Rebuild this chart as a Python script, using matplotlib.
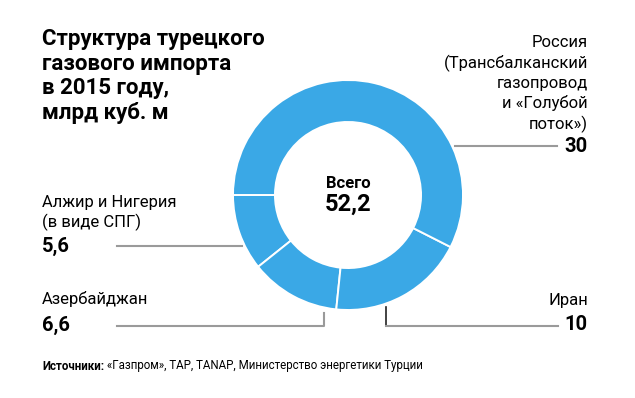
import matplotlib.pyplot as plt

# data
sources = ["Алжир и Нигерия\n(в виде СПГ)", "Азербайджан", "Иран",
           "Россия\n(Трансбалканский\nгазопровод\nи «Голубой\nпоток»)"]
values = [5.6, 6.6, 10, 30]
value_labels = ["5,6", "6,6", "10", "30"]
total_label = "52,2"

title = "Структура турецкого\nгазового импорта\nв 2015 году,\nмлрд куб. м"
note_bold = "Источники:"
note = " «Газпром», TAP, TANAP, Министерство энергетики Турции"

blue = "#3aa8e6"
grey = "#9a9a9a"

plt.rcParams["font.family"] = ["Liberation Sans Narrow", "Roboto", "DejaVu Sans"]

W, H = 635, 398
fig = plt.figure(figsize=(W / 100, H / 100), dpi=100)

# donut: centre (348, 195) px, outer radius 115 px
cx, cy, r = 348, 195, 115
ax = fig.add_axes([(cx - r) / W, (H - cy - r) / H, 2 * r / W, 2 * r / H])
ax.pie(values, startangle=180, counterclock=True, colors=[blue] * 4,
       radius=1, wedgeprops=dict(width=0.365, edgecolor="white", linewidth=1.4))
ax.set_xlim(-1, 1)
ax.set_ylim(-1, 1)
ax.set_aspect("equal")
ax.axis("off")

# overlay in pixel coordinates (top-left origin)
ov = fig.add_axes([0, 0, 1, 1], zorder=-1)
ov.set_xlim(0, W)
ov.set_ylim(H, 0)
ov.axis("off")

ov.text(42, 28, title, fontsize=16, fontweight="bold", va="top", ha="left",
        linespacing=1.16)

ov.text(348, 184, "Всего", fontsize=12, fontweight="bold", ha="center", va="center")
ov.text(348, 204, total_label, fontsize=17, fontweight="bold", ha="center", va="center")

lab_fs = 12
val_fs = 14.5

# Algeria / Nigeria
ov.text(42, 227, sources[0], fontsize=lab_fs, ha="left", va="baseline", linespacing=1.25)
ov.text(42, 246, value_labels[0], fontsize=val_fs, fontweight="bold", ha="left", va="center")
ov.plot([117, 242], [246, 246], color=grey, lw=1.5)

# Azerbaijan
ov.text(42, 299, sources[1], fontsize=lab_fs, ha="left", va="center")
ov.text(42, 325, value_labels[1], fontsize=val_fs, fontweight="bold", ha="left", va="center")
ov.plot([117, 324, 324], [326, 326, 313], color=grey, lw=1.5)

# Iran
ov.text(588, 300, sources[2], fontsize=lab_fs, ha="right", va="center")
ov.text(588, 325, value_labels[2], fontsize=val_fs, fontweight="bold", ha="right", va="center")
ov.plot([386, 386], [307, 326], color="#222222", lw=1.2)
ov.plot([386, 558], [326, 326], color=grey, lw=1.5)

# Russia
ov.text(588, 129, sources[3], fontsize=lab_fs, ha="right", va="baseline", linespacing=1.34)
ov.text(588, 146, value_labels[3], fontsize=val_fs, fontweight="bold", ha="right", va="center")
ov.plot([455, 557], [146, 146], color=grey, lw=1.5)

# source note
t = ov.text(42, 366, note_bold, fontsize=8.3, fontweight="bold", ha="left", va="center")
fig.canvas.draw()
bb = t.get_window_extent()
ov.text(42 + bb.width, 366, note, fontsize=8.3, ha="left", va="center")

fig.savefig("out.png", dpi=100)
